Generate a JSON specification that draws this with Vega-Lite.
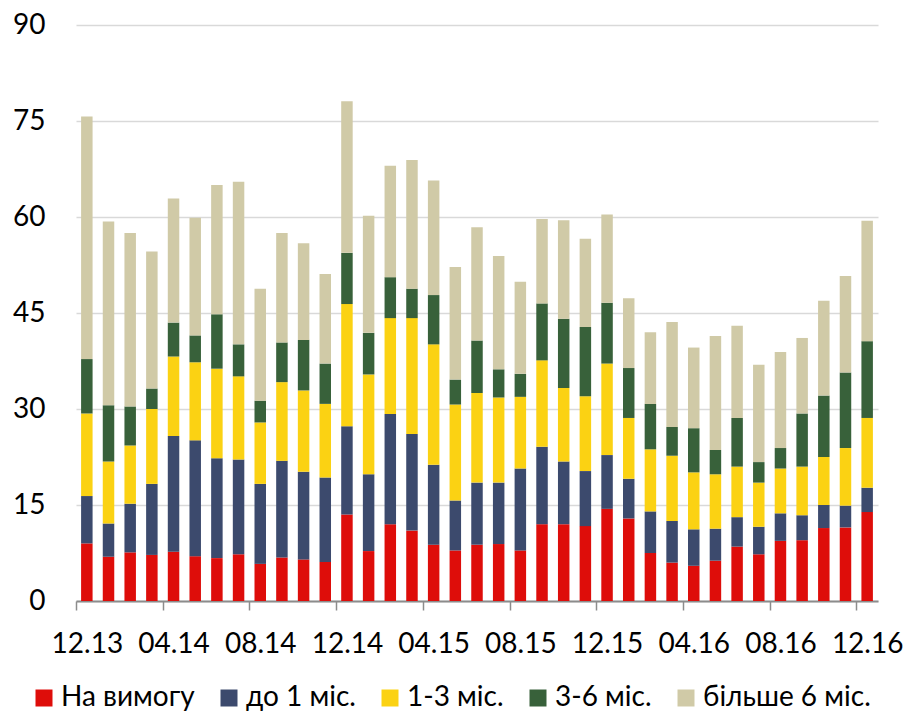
{
  "$schema": "https://vega.github.io/schema/vega-lite/v6.json",
  "width": 802,
  "height": 576,
  "autosize": {"type": "none"},
  "padding": {"left": 76, "top": 25, "right": 28, "bottom": 112},
  "background": "white",
  "config": {"font": "Lato", "view": {"stroke": null}},
  "data": {"values": [
    {"m": "12.13", "a": 9.0, "b": 7.4, "c": 12.9, "d": 8.5, "e": 37.9},
    {"m": "01.14", "a": 6.9, "b": 5.2, "c": 9.7, "d": 8.8, "e": 28.7},
    {"m": "02.14", "a": 7.6, "b": 7.6, "c": 9.1, "d": 6.1, "e": 27.1},
    {"m": "03.14", "a": 7.2, "b": 11.1, "c": 11.7, "d": 3.2, "e": 21.4},
    {"m": "04.14", "a": 7.7, "b": 18.1, "c": 12.4, "d": 5.3, "e": 19.4},
    {"m": "05.14", "a": 7.0, "b": 18.1, "c": 12.2, "d": 4.2, "e": 18.4},
    {"m": "06.14", "a": 6.7, "b": 15.6, "c": 14.0, "d": 8.5, "e": 20.2},
    {"m": "07.14", "a": 7.3, "b": 14.8, "c": 13.0, "d": 5.0, "e": 25.4},
    {"m": "08.14", "a": 5.8, "b": 12.5, "c": 9.6, "d": 3.4, "e": 17.5},
    {"m": "09.14", "a": 6.8, "b": 15.1, "c": 12.3, "d": 6.2, "e": 17.1},
    {"m": "10.14", "a": 6.5, "b": 13.7, "c": 12.7, "d": 7.9, "e": 15.1},
    {"m": "11.14", "a": 6.1, "b": 13.2, "c": 11.5, "d": 6.3, "e": 14.0},
    {"m": "12.14", "a": 13.5, "b": 13.8, "c": 19.1, "d": 8.0, "e": 23.7},
    {"m": "01.15", "a": 7.8, "b": 12.0, "c": 15.6, "d": 6.5, "e": 18.3},
    {"m": "02.15", "a": 12.0, "b": 17.2, "c": 15.0, "d": 6.4, "e": 17.4},
    {"m": "03.15", "a": 11.0, "b": 15.1, "c": 18.1, "d": 4.6, "e": 20.1},
    {"m": "04.15", "a": 8.8, "b": 12.5, "c": 18.8, "d": 7.7, "e": 17.9},
    {"m": "05.15", "a": 7.9, "b": 7.8, "c": 15.0, "d": 3.9, "e": 17.6},
    {"m": "06.15", "a": 8.8, "b": 9.7, "c": 14.0, "d": 8.2, "e": 17.7},
    {"m": "07.15", "a": 8.9, "b": 9.6, "c": 13.3, "d": 4.4, "e": 17.7},
    {"m": "08.15", "a": 7.9, "b": 12.8, "c": 11.2, "d": 3.6, "e": 14.4},
    {"m": "09.15", "a": 12.0, "b": 12.1, "c": 13.5, "d": 8.9, "e": 13.2},
    {"m": "10.15", "a": 12.0, "b": 9.8, "c": 11.5, "d": 10.8, "e": 15.4},
    {"m": "11.15", "a": 11.7, "b": 8.6, "c": 11.7, "d": 10.8, "e": 13.8},
    {"m": "12.15", "a": 14.4, "b": 8.4, "c": 14.3, "d": 9.5, "e": 13.8},
    {"m": "01.16", "a": 12.9, "b": 6.2, "c": 9.5, "d": 7.8, "e": 10.9},
    {"m": "02.16", "a": 7.5, "b": 6.5, "c": 9.7, "d": 7.1, "e": 11.2},
    {"m": "03.16", "a": 6.0, "b": 6.5, "c": 10.2, "d": 4.5, "e": 16.4},
    {"m": "04.16", "a": 5.5, "b": 5.7, "c": 8.9, "d": 6.9, "e": 12.6},
    {"m": "05.16", "a": 6.3, "b": 5.0, "c": 8.5, "d": 3.8, "e": 17.8},
    {"m": "06.16", "a": 8.5, "b": 4.6, "c": 7.9, "d": 7.6, "e": 14.4},
    {"m": "07.16", "a": 7.3, "b": 4.3, "c": 6.9, "d": 3.2, "e": 15.2},
    {"m": "08.16", "a": 9.4, "b": 4.3, "c": 7.0, "d": 3.2, "e": 15.0},
    {"m": "09.16", "a": 9.5, "b": 3.9, "c": 7.6, "d": 8.3, "e": 11.8},
    {"m": "10.16", "a": 11.4, "b": 3.6, "c": 7.5, "d": 9.6, "e": 14.8},
    {"m": "11.16", "a": 11.5, "b": 3.4, "c": 9.0, "d": 11.8, "e": 15.1},
    {"m": "12.16", "a": 13.9, "b": 3.8, "c": 10.9, "d": 12.0, "e": 18.8}
  ]},
  "transform": [
    {"fold": ["a", "b", "c", "d", "e"], "as": ["id", "v"]},
    {"lookup": "id", "from": {"data": {"values": [
      {"id": "a", "lab": "На вимогу", "k": 1},
      {"id": "b", "lab": "до 1 міс.", "k": 2},
      {"id": "c", "lab": "1-3 міс.", "k": 3},
      {"id": "d", "lab": "3-6 міс.", "k": 4},
      {"id": "e", "lab": "більше 6 міс.", "k": 5}
    ]}, "key": "id", "fields": ["lab", "k"]}}
  ],
  "mark": {"type": "bar"},
  "encoding": {
    "x": {
      "field": "m", "type": "nominal", "sort": null,
      "scale": {"paddingInner": 0.47, "paddingOuter": 0.235},
      "axis": {
        "title": null,
        "values": ["12.13", "04.14", "08.14", "12.14", "04.15", "08.15", "12.15", "04.16", "08.16", "12.16"],
        "labelAngle": 0, "labelFontSize": 28, "labelColor": "#000000",
        "labelBaseline": "alphabetic", "labelPadding": 42,
        "tickSize": 9, "tickColor": "#8c8c8c", "tickWidth": 1.5,
        "domainColor": "#8c8c8c", "domainWidth": 2,
        "tickOffset": -10.84, "labelOffset": 10.84, "grid": false
      }
    },
    "y": {
      "field": "v", "type": "quantitative", "stack": "zero",
      "scale": {"domain": [0, 90], "nice": false},
      "axis": {
        "title": null, "values": [0, 15, 30, 45, 60, 75, 90],
        "domain": false, "ticks": false, "labelFontSize": 28, "labelColor": "#000000",
        "labelPadding": 31, "gridColor": "#d9d9d9", "gridWidth": 1.5
      }
    },
    "color": {
      "field": "lab", "type": "nominal",
      "scale": {
        "domain": ["На вимогу", "до 1 міс.", "1-3 міс.", "3-6 міс.", "більше 6 міс."],
        "range": ["#DE0D0A", "#3C4A6D", "#FBD213", "#38613A", "#D0CAA7"]
      },
      "legend": {
        "orient": "none", "legendX": -46, "legendY": 659, "direction": "horizontal",
        "title": null, "symbolType": "square", "symbolSize": 289, "symbolStrokeWidth": 0,
        "labelFontSize": 28, "labelColor": "#000000", "labelOffset": 3, "labelLimit": 300,
        "columnPadding": 20, "padding": 0
      }
    },
    "order": {"field": "k", "type": "quantitative"}
  }
}
